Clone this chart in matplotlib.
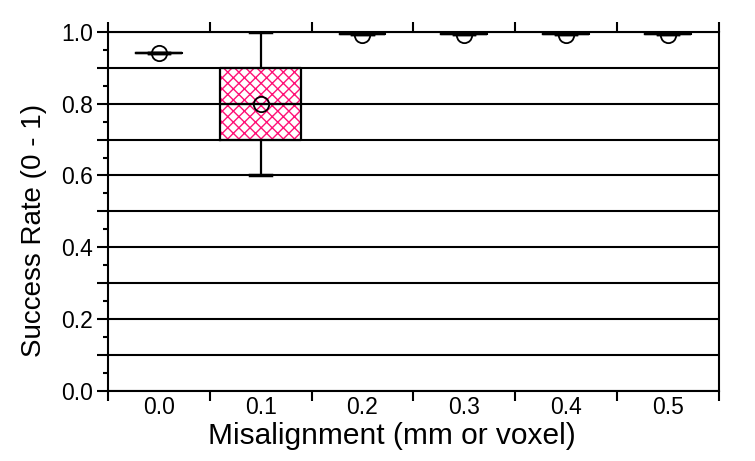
import matplotlib.pyplot as plt
from matplotlib.ticker import MultipleLocator, FixedLocator

plt.rcParams['font.family'] = ['Liberation Sans', 'DejaVu Sans']

# misalignment levels and success-rate statistics
categories = ['0.0', '0.1', '0.2', '0.3', '0.4', '0.5']
q1 = [0.94, 0.70, 0.995, 0.995, 0.995, 0.995]
q3 = [0.94, 0.90, 0.995, 0.995, 0.995, 0.995]
medians = [0.94, 0.80, 0.995, 0.995, 0.995, 0.995]
whis_lo = [0.94, 0.60, 0.995, 0.995, 0.995, 0.995]
whis_hi = [0.94, 1.00, 0.995, 0.995, 0.995, 0.995]
means = [0.94, 0.80, 0.99, 0.99, 0.99, 0.99]
box_widths = [0.45, 0.8, 0.45, 0.45, 0.45, 0.45]

stats = []
for i in range(len(categories)):
    stats.append({'label': categories[i], 'q1': q1[i], 'q3': q3[i], 'med': medians[i],
                  'whislo': whis_lo[i], 'whishi': whis_hi[i], 'mean': means[i], 'fliers': []})

fig = plt.figure(figsize=(7.55, 4.61), dpi=100)
ax = fig.add_axes([0.143, 0.152, 0.809, 0.779])
pos = list(range(len(categories)))

# hatched fill of the boxes
ax.bxp(stats, positions=pos, widths=box_widths, patch_artist=True, showcaps=False,
       showfliers=False, showmeans=False,
       boxprops=dict(facecolor='white', edgecolor='#FF1177', hatch='xxx', linewidth=0),
       whiskerprops=dict(linewidth=0), medianprops=dict(linewidth=0), zorder=1)

# outlines, whiskers, caps and mean markers
ax.bxp(stats, positions=pos, widths=box_widths, capwidths=0.2, showmeans=True, showfliers=False,
       boxprops=dict(color='black', linewidth=1.6),
       whiskerprops=dict(color='black', linewidth=1.6),
       capprops=dict(color='black', linewidth=2.5),
       medianprops=dict(color='black', linewidth=1.6),
       meanprops=dict(marker='o', markerfacecolor='none', markeredgecolor='black',
                      markersize=11, markeredgewidth=1.3),
       zorder=3)

ax.set_xlim(-0.5, 5.5)
ax.set_ylim(0, 1.0)

# x ticks at category boundaries, labels centred
ax.xaxis.set_major_locator(FixedLocator([p - 0.5 for p in pos] + [pos[-1] + 0.5]))
ax.xaxis.set_major_formatter(plt.NullFormatter())
ax.xaxis.set_minor_locator(FixedLocator(pos))
ax.set_xticklabels(categories, minor=True)
ax.tick_params(axis='x', which='major', direction='out', length=7.5, width=1.5, top=True)
ax.tick_params(axis='x', which='minor', length=0, pad=4, labelsize=16.5)

# y ticks
ax.yaxis.set_minor_locator(MultipleLocator(0.05))
ax.set_yticks([0.0, 0.1, 0.2, 0.3, 0.4, 0.5, 0.6, 0.7, 0.8, 0.9, 1.0])
ax.set_yticklabels(['0.0', '', '0.2', '', '0.4', '', '0.6', '', '0.8', '', '1.0'])
ax.tick_params(axis='y', which='major', direction='out', length=8, width=1.5, labelsize=16.5, pad=3)
ax.tick_params(axis='y', which='minor', direction='out', length=3.5, width=1.5)

ax.grid(True, axis='y', which='major', color='black', linewidth=1.5)
ax.set_axisbelow(False)

for s in ax.spines.values():
    s.set_linewidth(1.5)

ax.set_xlabel('Misalignment (mm or voxel)', fontsize=21.5, labelpad=2)
ax.set_ylabel('Success Rate (0 - 1)', fontsize=20, labelpad=10)
ax.xaxis.label.set_x(0.465)
ax.yaxis.label.set_y(0.448)

fig.savefig('out.png', dpi=100)
